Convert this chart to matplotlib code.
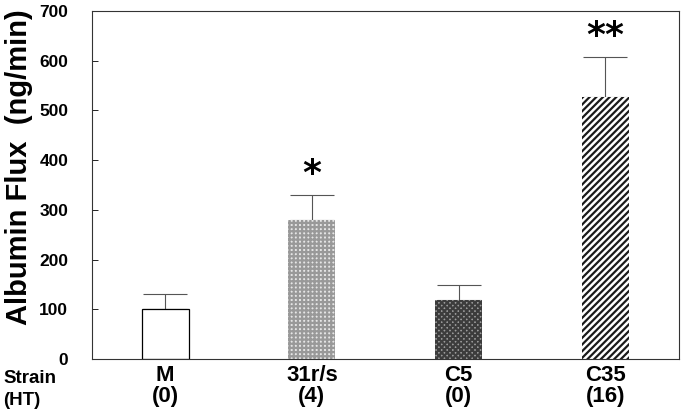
import matplotlib.pyplot as plt
import numpy as np

plt.rcParams["font.family"] = ["Liberation Sans", "DejaVu Sans"]
plt.rcParams["hatch.linewidth"] = 1.6

strains = ["M", "31r/s", "C5", "C35"]
ht_counts = ["(0)", "(4)", "(0)", "(16)"]
flux = [100, 280, 118, 527]
flux_err = [30, 50, 31, 81]
stars = ["", "*", "", "**"]

faces = ["white", "#e6e6e6", "#9c9c9c", "white"]
hatches = ["", "++++", "xxxxxx", "/////"]
hatch_cols = ["black", "#999999", "#3c3c3c", "#1a1a1a"]

fig = plt.figure(figsize=(6.85, 4.17), dpi=100)
ax = fig.add_axes([0.134, 0.139, 0.857, 0.835])

x = np.arange(len(strains))
for i in range(len(strains)):
    if hatches[i]:
        ax.bar(x[i], flux[i], width=0.32, color=faces[i], edgecolor=hatch_cols[i],
               linewidth=0, hatch=hatches[i], zorder=2)
    else:
        ax.bar(x[i], flux[i], width=0.32, color=faces[i], edgecolor="black",
               linewidth=0.9, zorder=2)

ax.errorbar(x, flux, yerr=[np.zeros(len(flux)), flux_err], fmt="none",
            ecolor="#555555", elinewidth=0.8, capsize=15.5, capthick=0.8, zorder=1)

for xi, v, e, s in zip(x, flux, flux_err, stars):
    if s:
        ax.text(xi, v + e + 42, s, ha="center", va="center",
                fontsize=26, fontweight="bold", family="DejaVu Sans")

ax.set_xlim(-0.5, 3.5)
ax.set_ylim(0, 700)
ax.set_yticks(np.arange(0, 701, 100))
ax.tick_params(axis="y", direction="in", length=4, width=0.6, pad=17)
for lab in ax.get_yticklabels():
    lab.set_fontweight("bold")
    lab.set_fontsize(12.5)
ax.set_xticks(x)
ax.set_xticklabels([f"{s}\n{h}" for s, h in zip(strains, ht_counts)],
                   fontsize=16, fontweight="bold", linespacing=1.05)
ax.tick_params(axis="x", length=0, pad=4)

for sp in ax.spines.values():
    sp.set_linewidth(0.8)
    sp.set_color("#333333")

ax.set_ylabel("Albumin Flux  (ng/min)", fontsize=21, fontweight="bold")
ax.yaxis.set_label_coords(-0.1, 0.55)

fig.text(0.005, 0.093, "Strain", fontsize=13.5, fontweight="bold", va="center")
fig.text(0.005, 0.040, "(HT)", fontsize=13.5, fontweight="bold", va="center")

fig.savefig("out.png", dpi=100)
